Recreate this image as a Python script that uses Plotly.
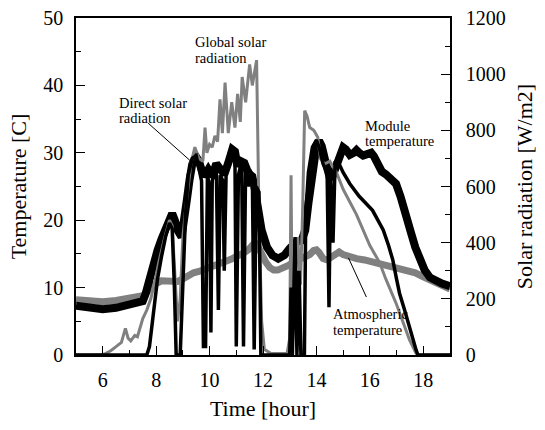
import plotly.graph_objects as go

# ---------------- data ----------------
mod_t = [5.0, 5.5, 6.0, 6.5, 7.0, 7.3, 7.5, 7.6, 7.75, 7.9, 8.05, 8.2, 8.35, 8.5, 8.6, 8.7, 8.8, 8.95,
         9.05, 9.15, 9.25, 9.35, 9.5, 9.6, 9.7, 9.8, 9.95, 10.1, 10.25, 10.4, 10.55, 10.7, 10.85, 10.95,
         11.05, 11.15, 11.3, 11.45, 11.6, 11.7, 11.8, 11.95, 12.15, 12.35, 12.57, 12.8, 13.0, 13.25,
         13.45, 13.58, 13.7, 13.85, 14.0, 14.1, 14.2, 14.35, 14.5, 14.6, 14.75, 14.9, 15.0, 15.1,
         15.25, 15.4, 15.5, 15.6, 15.75, 15.9, 16.05, 16.15, 16.3, 16.45, 16.6, 16.8, 16.98, 17.15,
         17.36, 17.55, 17.7, 17.85, 18.05, 18.25, 18.45, 18.7, 19.0]
mod_v = [7.3, 7.0, 6.8, 7.0, 7.4, 7.7, 8.0, 9.0, 11.5, 13.5, 15.5, 17.2, 18.8, 20.3, 21.0, 20.0, 18.5, 17.5,
         19.5, 23.0, 26.0, 28.3, 29.4, 28.8, 27.5, 26.5, 27.5, 26.5, 28.4, 27.5, 26.8, 28.5, 30.5, 30.2,
         28.0, 28.8, 28.5, 27.0, 26.5, 24.5, 21.5, 18.5, 16.0, 14.8, 14.3, 14.8, 15.8, 16.8,
         17.0, 18.5, 22.5, 27.0, 31.0, 31.8, 31.0, 28.5, 26.3, 26.5, 28.5, 30.3, 30.8, 30.5,
         29.7, 30.0, 30.4, 30.0, 29.6, 29.8, 30.0, 29.5, 28.3, 27.2, 26.8, 26.2, 25.4, 23.5,
         21.0, 18.0, 16.0, 14.2, 12.6, 11.5, 11.0, 10.6, 10.2]

atm_t = [5.0, 5.5, 6.0, 6.5, 7.0, 7.3, 7.5, 7.65, 7.8, 8.0, 8.2, 8.5, 8.8, 9.0, 9.2, 9.4, 9.6, 9.8,
         10.0, 10.2, 10.4, 10.6, 10.8, 11.0, 11.15, 11.3, 11.45, 11.6, 11.7, 11.8, 11.95, 12.1, 12.25,
         12.4, 12.55, 12.75, 12.95, 13.15, 13.35, 13.55, 13.75, 13.9, 14.0, 14.1, 14.25, 14.4, 14.55,
         14.7, 14.85, 15.0, 15.2, 15.5, 15.8, 16.1, 16.4, 16.7, 17.0, 17.4, 17.7, 18.0, 18.3, 18.6, 19.0]
atm_v = [8.2, 8.0, 7.9, 8.1, 8.4, 8.6, 8.8, 9.3, 9.9, 10.6, 11.0, 11.0, 10.9, 11.3, 11.8, 12.2, 12.4, 12.7,
         13.0, 13.2, 13.5, 13.7, 14.2, 14.6, 14.8, 15.2, 15.6, 16.3, 16.7, 16.2, 14.8, 13.8, 13.0,
         12.6, 12.6, 12.9, 13.3, 13.8, 14.1, 14.4, 14.9, 15.5, 15.6, 15.2, 14.3, 14.1, 14.6,
         15.0, 15.3, 14.9, 14.6, 14.3, 14.1, 13.8, 13.5, 13.1, 12.9, 12.6, 12.2, 11.6, 11.1, 10.6, 9.8]

dir_t = [5.0, 7.65, 7.75, 7.9, 8.05, 8.2, 8.35, 8.5, 8.6, 8.68, 8.75, 8.9, 9.0, 9.1, 9.2, 9.35, 9.5,
         9.6, 9.7, 9.77, 9.85, 9.92, 10.0, 10.05, 10.1, 10.2, 10.25, 10.33, 10.4, 10.5, 10.55, 10.62,
         10.7, 10.85, 10.95, 11.0, 11.08, 11.2, 11.27, 11.35, 11.45, 11.5, 11.6, 11.67, 11.75, 11.85,
         11.92, 13.0, 13.05, 13.1, 13.2, 13.27, 13.35, 13.42, 13.55, 13.6, 13.7, 13.85, 14.0, 14.1,
         14.25, 14.4, 14.47, 14.53, 14.62, 14.7, 14.85, 15.0, 15.25, 15.6, 15.75, 16.1, 16.3, 16.5,
         16.7, 16.86, 17.0, 17.11, 17.3, 17.48, 17.6, 17.73, 17.8, 19.0]
dir_v = [0, 0, 30, 150, 270, 350, 420, 470, 450, 250, 0, 0, 250, 500, 640, 700, 710,
         660, 620, 30, 30, 640, 600, 80, 620, 660, 680, 160, 640, 620, 300, 650,
         700, 730, 700, 30, 640, 690, 30, 670, 600, 660, 640, 20, 600, 580,
         0, 0, 240, 0, 420, 0, 300, 0, 0, 500, 650, 740, 765, 740,
         680, 650, 170, 640, 400, 690, 680, 650, 610, 565, 550, 515, 480, 445,
         390, 338, 270, 220, 160, 100, 50, 18, 0, 0]

glo_t = [5.0, 5.95, 6.1, 6.3, 6.5, 6.7, 6.85, 6.95, 7.05, 7.2, 7.3, 7.4, 7.5, 7.65, 7.8, 7.95, 8.1,
         8.3, 8.5, 8.6, 8.7, 8.8, 8.9, 9.0, 9.15, 9.3, 9.45, 9.6, 9.75, 9.83, 9.9, 10.0, 10.1, 10.2,
         10.3, 10.39, 10.48, 10.58, 10.7, 10.83, 10.95, 11.05, 11.15, 11.22, 11.35, 11.5, 11.6,
         11.76, 11.85, 11.95, 12.05, 12.3, 12.9, 13.0, 13.05, 13.1, 13.2, 13.3, 13.4, 13.48, 13.56,
         13.65, 13.75, 13.9, 14.05, 14.15, 14.3, 14.5, 14.75, 15.0, 15.5, 16.0, 16.36, 16.6, 17.0,
         17.3, 17.48, 17.73, 17.8, 19.0]
glo_v = [0, 0, 5, 15, 30, 45, 95, 60, 50, 70, 65, 95, 130, 160, 200, 260, 330,
         410, 480, 460, 300, 120, 200, 420, 560, 680, 740, 700, 690, 810, 720, 750, 740, 780,
         760, 910, 790, 970, 790, 900, 810, 930, 830, 990, 900, 1035, 960,
         1050, 500, 120, 20, 5, 5, 60, 640, 40, 250, 420, 250, 500, 870,
         850, 810, 800, 775, 700, 680, 690, 650, 590, 500, 390, 330, 270, 180,
         100, 55, 6, 0, 0]

x_ticks = [6, 8, 10, 12, 14, 16, 18]
left_ticks = [0, 10, 20, 30, 40, 50]
right_ticks = [0, 200, 400, 600, 800, 1000, 1200]

GRAY = "rgb(128,128,128)"
FONT = "Liberation Serif"

fig = go.Figure()
fig.add_trace(go.Scatter(x=glo_t, y=glo_v, yaxis="y2", mode="lines",
                         line=dict(color=GRAY, width=3), name="Global solar radiation"))
fig.add_trace(go.Scatter(x=atm_t, y=atm_v, mode="lines",
                         line=dict(color=GRAY, width=7), name="Atmospheric temperature"))
fig.add_trace(go.Scatter(x=mod_t, y=mod_v, mode="lines",
                         line=dict(color="black", width=8), name="Module temperature"))
fig.add_trace(go.Scatter(x=dir_t, y=dir_v, yaxis="y2", mode="lines",
                         line=dict(color="black", width=3.5), name="Direct solar radiation"))

ann_font = dict(family=FONT, size=14.5, color="black")
labels = [
    ("Global solar", 9.38, 46.44), ("radiation", 9.38, 44.07),
    ("Direct solar", 6.54, 37.39), ("radiation", 6.54, 35.16),
    ("Module", 15.74, 34.05), ("temperature", 15.74, 31.68),
    ("Atmospheric", 14.56, 6.01), ("temperature", 14.56, 3.64),
]
for txt, ax_, ay_ in labels:
    fig.add_annotation(x=ax_, y=ay_, xref="x", yref="y", text=txt, showarrow=False,
                       xanchor="left", yanchor="middle", font=ann_font)

fig.add_shape(type="line", xref="x", yref="y", x0=7.7, y0=34.4, x1=9.34, y1=28.6,
              line=dict(color="black", width=1))
fig.add_shape(type="line", xref="x", yref="y", x0=15.87, y0=8.6, x1=15.2, y1=14.4,
              line=dict(color="black", width=1))

tick_font = dict(family=FONT, size=20, color="black")
title_font = dict(family=FONT, size=22, color="black")

fig.update_layout(
    width=545, height=430,
    margin=dict(l=75.5, r=94.5, t=18, b=75),
    paper_bgcolor="white", plot_bgcolor="white",
    showlegend=False,
    font=dict(family=FONT, color="black"),
    xaxis=dict(range=[5, 19], tickvals=x_ticks, ticks="inside", ticklen=9, tickwidth=1,
               tickcolor="black", showline=True, linecolor="black", linewidth=1.5, mirror=True,
               showgrid=False, zeroline=False, tickfont=tick_font, ticklabelstandoff=6,
               automargin=False,
               minor=dict(dtick=1, ticks="inside", ticklen=5, tickcolor="black", tickwidth=1),
               title=dict(text="Time [hour]", font=title_font, standoff=11)),
    yaxis=dict(range=[0, 50], tickvals=left_ticks, ticks="inside", ticklen=9, tickwidth=1,
               tickcolor="black", showline=True, linecolor="black", linewidth=1.5,
               showgrid=False, zeroline=False, tickfont=tick_font, ticklabelstandoff=7,
               automargin=False,
               minor=dict(dtick=5, ticks="inside", ticklen=5, tickcolor="black", tickwidth=1),
               title=dict(text="Temperature [C]", font=title_font, standoff=11)),
    yaxis2=dict(range=[0, 1200], tickvals=right_ticks, ticks="inside", ticklen=9, tickwidth=1,
                tickcolor="black", showline=True, linecolor="black", linewidth=1.5,
                overlaying="y", side="right", automargin=False,
                showgrid=False, zeroline=False, tickfont=tick_font, ticklabelstandoff=10,
                minor=dict(dtick=100, ticks="inside", ticklen=5, tickcolor="black", tickwidth=1),
                title=dict(text="Solar radiation [W/m2]", font=title_font, standoff=12)),
)

fig.write_html("out.html")
